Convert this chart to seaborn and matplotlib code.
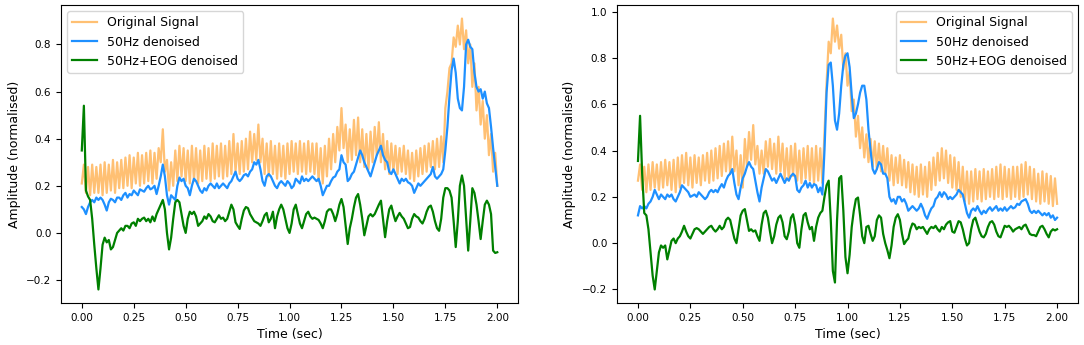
import numpy as np
import pandas as pd
import matplotlib
matplotlib.use("Agg")
import matplotlib.pyplot as plt
import seaborn as sns

# time axis: 2 s sampled every 10 ms
time_sec = np.round(np.arange(201) * 0.01, 2)

# ---- left panel ----
orig_left = [
    0.21, 0.29, 0.17, 0.28, 0.16, 0.29, 0.17, 0.28, 0.17, 0.29,
    0.16, 0.30, 0.17, 0.29, 0.18, 0.31, 0.17, 0.30, 0.19, 0.31,
    0.19, 0.32, 0.20, 0.33, 0.19, 0.32, 0.21, 0.34, 0.20, 0.33,
    0.21, 0.34, 0.22, 0.35, 0.21, 0.34, 0.23, 0.36, 0.30, 0.44,
    0.26, 0.31, 0.18, 0.30, 0.20, 0.35, 0.22, 0.37, 0.24, 0.36,
    0.22, 0.35, 0.21, 0.37, 0.22, 0.36, 0.21, 0.35, 0.22, 0.37,
    0.23, 0.36, 0.22, 0.38, 0.23, 0.37, 0.24, 0.38, 0.23, 0.37,
    0.24, 0.39, 0.25, 0.42, 0.26, 0.38, 0.25, 0.39, 0.26, 0.40,
    0.27, 0.43, 0.30, 0.42, 0.31, 0.46, 0.30, 0.40, 0.25, 0.38,
    0.24, 0.39, 0.25, 0.37, 0.23, 0.38, 0.24, 0.37, 0.23, 0.38,
    0.25, 0.39, 0.26, 0.38, 0.25, 0.39, 0.26, 0.38, 0.25, 0.39,
    0.26, 0.38, 0.25, 0.38, 0.22, 0.36, 0.21, 0.37, 0.24, 0.40,
    0.27, 0.42, 0.30, 0.45, 0.35, 0.53, 0.36, 0.46, 0.30, 0.44,
    0.31, 0.48, 0.33, 0.49, 0.30, 0.44, 0.28, 0.42, 0.27, 0.43,
    0.30, 0.45, 0.33, 0.47, 0.30, 0.42, 0.27, 0.39, 0.25, 0.38,
    0.26, 0.37, 0.25, 0.36, 0.26, 0.37, 0.25, 0.35, 0.23, 0.34,
    0.22, 0.35, 0.24, 0.36, 0.25, 0.37, 0.26, 0.38, 0.28, 0.39,
    0.27, 0.40, 0.28, 0.41, 0.30, 0.53, 0.60, 0.70, 0.72, 0.83,
    0.79, 0.88, 0.80, 0.91, 0.78, 0.86, 0.72, 0.80, 0.62, 0.72,
    0.52, 0.62, 0.46, 0.56, 0.40, 0.50, 0.33, 0.42, 0.26, 0.34,
    0.20,
]
hz50_left = [
    0.11, 0.10, 0.08, 0.11, 0.13, 0.14, 0.13, 0.15, 0.14, 0.15,
    0.14, 0.12, 0.095, 0.13, 0.145, 0.14, 0.13, 0.15, 0.15, 0.14,
    0.16, 0.17, 0.15, 0.165, 0.16, 0.18, 0.17, 0.16, 0.185, 0.18,
    0.175, 0.19, 0.20, 0.185, 0.19, 0.20, 0.165, 0.20, 0.24, 0.29,
    0.24, 0.16, 0.12, 0.16, 0.15, 0.14, 0.20, 0.235, 0.22, 0.23,
    0.20, 0.19, 0.16, 0.20, 0.23, 0.22, 0.20, 0.18, 0.17, 0.19,
    0.18, 0.20, 0.21, 0.20, 0.19, 0.21, 0.19, 0.20, 0.21, 0.20,
    0.19, 0.21, 0.22, 0.24, 0.26, 0.23, 0.22, 0.23, 0.245, 0.25,
    0.24, 0.26, 0.27, 0.30, 0.29, 0.31, 0.27, 0.22, 0.20, 0.24,
    0.25, 0.24, 0.22, 0.20, 0.19, 0.21, 0.22, 0.21, 0.20, 0.22,
    0.21, 0.19, 0.20, 0.23, 0.22, 0.21, 0.24, 0.22, 0.23, 0.22,
    0.23, 0.24, 0.23, 0.22, 0.23, 0.20, 0.16, 0.18, 0.20, 0.20,
    0.22, 0.235, 0.24, 0.26, 0.27, 0.33, 0.30, 0.29, 0.22, 0.23,
    0.25, 0.26, 0.29, 0.32, 0.35, 0.33, 0.30, 0.28, 0.26, 0.24,
    0.27, 0.30, 0.33, 0.35, 0.37, 0.33, 0.31, 0.30, 0.26, 0.25,
    0.27, 0.25, 0.23, 0.21, 0.23, 0.22, 0.23, 0.215, 0.21, 0.20,
    0.17, 0.19, 0.21, 0.20, 0.21, 0.22, 0.23, 0.24, 0.25, 0.28,
    0.24, 0.23, 0.24, 0.25, 0.27, 0.35, 0.45, 0.58, 0.69, 0.74,
    0.68, 0.57, 0.53, 0.52, 0.62, 0.80, 0.82, 0.79, 0.78, 0.68,
    0.62, 0.60, 0.61, 0.57, 0.60, 0.55, 0.53, 0.45, 0.36, 0.28,
    0.20,
]
eog_left = [
    0.35, 0.54, 0.18, 0.155, 0.14, 0.06, -0.05, -0.15, -0.24, -0.15,
    -0.05, -0.02, -0.04, -0.03, -0.07, -0.06, -0.03, 0.0, 0.01, 0.02,
    0.01, 0.03, 0.03, 0.02, 0.04, 0.045, 0.03, 0.06, 0.05, 0.06,
    0.065, 0.05, 0.06, 0.045, 0.07, 0.05, 0.08, 0.10, 0.12, 0.14,
    0.10, 0.0, -0.07, -0.02, 0.06, 0.13, 0.14, 0.13, 0.08, 0.03,
    0.0, 0.06, 0.09, 0.08, 0.09, 0.07, 0.03, 0.04, 0.05, 0.07,
    0.06, 0.08, 0.07, 0.05, 0.045, 0.06, 0.075, 0.06, 0.065, 0.05,
    0.06, 0.09, 0.12, 0.10, 0.045, 0.03, 0.017, 0.06, 0.095, 0.11,
    0.105, 0.08, 0.065, 0.05, 0.045, 0.04, 0.03, 0.05, 0.075, 0.085,
    0.045, 0.06, 0.09, 0.02, 0.07, 0.10, 0.12, 0.10, 0.06, 0.02,
    0.0, 0.04, 0.10, 0.12, 0.08, 0.04, 0.02, 0.05, 0.08, 0.09,
    0.07, 0.06, 0.065, 0.06, 0.055, 0.04, 0.02, 0.05, 0.09, 0.10,
    0.10, 0.08, 0.05, 0.08, 0.12, 0.144, 0.11, 0.03, -0.047, 0.02,
    0.06, 0.11, 0.15, 0.165, 0.12, 0.06, -0.01, 0.03, 0.07, 0.08,
    0.07, 0.08, 0.10, 0.12, 0.137, 0.06, -0.018, 0.05, 0.10, 0.116,
    0.08, 0.05, 0.07, 0.085, 0.07, 0.06, 0.04, 0.02, 0.025, 0.06,
    0.08, 0.07, 0.065, 0.05, 0.04, 0.06, 0.09, 0.11, 0.116, 0.09,
    0.05, 0.02, 0.009, 0.06, 0.15, 0.19, 0.19, 0.18, 0.15, 0.05,
    -0.06, 0.05, 0.20, 0.244, 0.20, 0.06, -0.075, 0.05, 0.19, 0.17,
    0.12, 0.05, -0.026, 0.05, 0.12, 0.137, 0.12, 0.08, -0.075, -0.085,
    -0.082,
]

# ---- right panel ----
orig_right = [
    0.27, 0.34, 0.23, 0.33, 0.22, 0.34, 0.23, 0.35, 0.24, 0.34,
    0.23, 0.35, 0.24, 0.36, 0.25, 0.35, 0.23, 0.36, 0.22, 0.37,
    0.24, 0.38, 0.26, 0.39, 0.25, 0.37, 0.24, 0.38, 0.26, 0.37,
    0.25, 0.38, 0.27, 0.39, 0.26, 0.40, 0.27, 0.41, 0.28, 0.42,
    0.29, 0.43, 0.31, 0.44, 0.30, 0.46, 0.31, 0.40, 0.25, 0.38,
    0.24, 0.45, 0.33, 0.48, 0.36, 0.51, 0.34, 0.42, 0.30, 0.40,
    0.30, 0.44, 0.33, 0.45, 0.32, 0.43, 0.30, 0.46, 0.31, 0.43,
    0.28, 0.41, 0.27, 0.42, 0.29, 0.43, 0.27, 0.40, 0.26, 0.41,
    0.28, 0.42, 0.27, 0.41, 0.26, 0.42, 0.27, 0.41, 0.26, 0.48,
    0.69, 0.87, 0.82, 0.97, 0.87, 0.94, 0.84, 0.90, 0.75, 0.82,
    0.68, 0.74, 0.57, 0.62, 0.46, 0.55, 0.41, 0.50, 0.37, 0.47,
    0.35, 0.45, 0.33, 0.44, 0.32, 0.43, 0.31, 0.42, 0.30, 0.41,
    0.27, 0.38, 0.25, 0.37, 0.26, 0.38, 0.25, 0.36, 0.24, 0.35,
    0.22, 0.34, 0.21, 0.33, 0.20, 0.34, 0.21, 0.33, 0.20, 0.35,
    0.23, 0.37, 0.25, 0.39, 0.27, 0.41, 0.28, 0.40, 0.26, 0.38,
    0.24, 0.37, 0.23, 0.35, 0.20, 0.33, 0.18, 0.31, 0.17, 0.31,
    0.18, 0.32, 0.19, 0.31, 0.18, 0.32, 0.19, 0.31, 0.20, 0.32,
    0.19, 0.33, 0.20, 0.34, 0.19, 0.33, 0.20, 0.32, 0.19, 0.33,
    0.20, 0.33, 0.19, 0.34, 0.20, 0.35, 0.21, 0.33, 0.19, 0.32,
    0.18, 0.30, 0.17, 0.31, 0.18, 0.30, 0.17, 0.29, 0.16, 0.28,
    0.17,
]
hz50_right = [
    0.12, 0.16, 0.15, 0.16, 0.15, 0.17, 0.18, 0.20, 0.23, 0.21,
    0.19, 0.21, 0.20, 0.19, 0.21, 0.20, 0.21, 0.19, 0.18, 0.20,
    0.22, 0.25, 0.24, 0.23, 0.22, 0.20, 0.205, 0.21, 0.20, 0.22,
    0.21, 0.20, 0.19, 0.20, 0.22, 0.23, 0.22, 0.23, 0.22, 0.24,
    0.255, 0.24, 0.27, 0.29, 0.30, 0.32, 0.26, 0.21, 0.19, 0.24,
    0.28, 0.30, 0.33, 0.35, 0.33, 0.32, 0.27, 0.22, 0.18, 0.24,
    0.28, 0.32, 0.31, 0.29, 0.27, 0.28, 0.26, 0.28, 0.30, 0.28,
    0.26, 0.28, 0.27, 0.29, 0.30, 0.29, 0.23, 0.22, 0.24, 0.25,
    0.27, 0.24, 0.26, 0.24, 0.255, 0.25, 0.22, 0.24, 0.21, 0.40,
    0.65, 0.77, 0.78, 0.68, 0.53, 0.49, 0.56, 0.68, 0.77, 0.81,
    0.82, 0.76, 0.64, 0.54, 0.56, 0.60, 0.65, 0.68, 0.68, 0.62,
    0.49, 0.40, 0.32, 0.30, 0.32, 0.35, 0.34, 0.30, 0.30, 0.28,
    0.20, 0.18, 0.19, 0.17, 0.20, 0.20, 0.18, 0.19, 0.17, 0.14,
    0.15, 0.16, 0.15, 0.14, 0.15, 0.17, 0.15, 0.12, 0.105, 0.13,
    0.15, 0.16, 0.19, 0.20, 0.22, 0.20, 0.22, 0.21, 0.19, 0.20,
    0.19, 0.20, 0.21, 0.23, 0.22, 0.21, 0.17, 0.13, 0.11, 0.14,
    0.15, 0.14, 0.16, 0.14, 0.125, 0.14, 0.13, 0.145, 0.155, 0.14,
    0.15, 0.16, 0.14, 0.15, 0.14, 0.155, 0.14, 0.15, 0.16, 0.15,
    0.155, 0.17, 0.165, 0.18, 0.185, 0.19, 0.17, 0.14, 0.13, 0.14,
    0.13, 0.14, 0.13, 0.12, 0.13, 0.12, 0.13, 0.11, 0.12, 0.10,
    0.11,
]
eog_right = [
    0.355, 0.55, 0.30, 0.13, 0.12, 0.06, -0.04, -0.14, -0.20, -0.12,
    -0.04, -0.01, -0.02, -0.01, -0.07, -0.03, 0.01, 0.02, 0.0, 0.02,
    0.03, 0.05, 0.075, 0.05, 0.03, 0.02, 0.04, 0.06, 0.065, 0.06,
    0.05, 0.04, 0.05, 0.06, 0.07, 0.075, 0.06, 0.05, 0.06, 0.075,
    0.06, 0.07, 0.10, 0.11, 0.10, 0.06, 0.02, 0.0, 0.06, 0.12,
    0.14, 0.147, 0.10, 0.053, 0.06, 0.05, 0.055, 0.03, 0.01, 0.08,
    0.13, 0.14, 0.11, 0.05, 0.0, 0.03, 0.08, 0.11, 0.12, 0.09,
    0.03, 0.017, 0.05, 0.11, 0.125, 0.08, 0.0, -0.02, 0.06, 0.12,
    0.13, 0.09, 0.06, 0.07, 0.01, 0.07, 0.11, 0.13, 0.14, 0.20,
    0.25, 0.27, 0.10, -0.12, -0.17, 0.10, 0.28, 0.29, 0.14, -0.06,
    -0.13, -0.05, 0.07, 0.14, 0.19, 0.197, 0.12, 0.03, 0.0, 0.07,
    0.075, 0.04, 0.01, 0.03, 0.10, 0.12, 0.11, 0.04, 0.0, -0.03,
    -0.065, -0.01, 0.07, 0.11, 0.125, 0.10, 0.04, -0.004, 0.01, 0.02,
    0.06, 0.085, 0.08, 0.06, 0.07, 0.065, 0.07, 0.055, 0.04, 0.06,
    0.07, 0.065, 0.075, 0.06, 0.05, 0.07, 0.06, 0.08, 0.09, 0.095,
    0.05, 0.045, 0.07, 0.095, 0.09, 0.06, 0.02, -0.01, 0.0, 0.06,
    0.10, 0.11, 0.08, 0.05, 0.03, 0.025, 0.04, 0.07, 0.09, 0.095,
    0.08, 0.05, 0.03, 0.025, 0.05, 0.075, 0.07, 0.075, 0.065, 0.05,
    0.06, 0.065, 0.07, 0.06, 0.075, 0.08, 0.06, 0.04, 0.035, 0.035,
    0.03, 0.05, 0.07, 0.075, 0.06, 0.04, 0.025, 0.05, 0.06, 0.055,
    0.06,
]

labels = ["Original Signal", "50Hz denoised", "50Hz+EOG denoised"]
colors = ["#ffc073", "dodgerblue", "green"]

fig = plt.figure(figsize=(10.84, 3.45), dpi=100)
ax1 = fig.add_axes([0.0563, 0.1217, 0.4216, 0.8638])
ax2 = fig.add_axes([0.5692, 0.1217, 0.4253, 0.8638])

panels = [
    (ax1, [orig_left, hz50_left, eog_left], "upper left"),
    (ax2, [orig_right, hz50_right, eog_right], "upper right"),
]

for ax, series, loc in panels:
    for vals, lab, col in zip(series, labels, colors):
        sns.lineplot(x=time_sec, y=vals, ax=ax, color=col, label=lab, linewidth=1.6)
    ax.set_xlabel("Time (sec)", fontsize=9)
    ax.set_ylabel("Amplitude (normalised)", fontsize=9)
    ax.tick_params(labelsize=7.5)
    ax.legend(loc=loc, fontsize=9)

fig.savefig("out.png", dpi=100)
